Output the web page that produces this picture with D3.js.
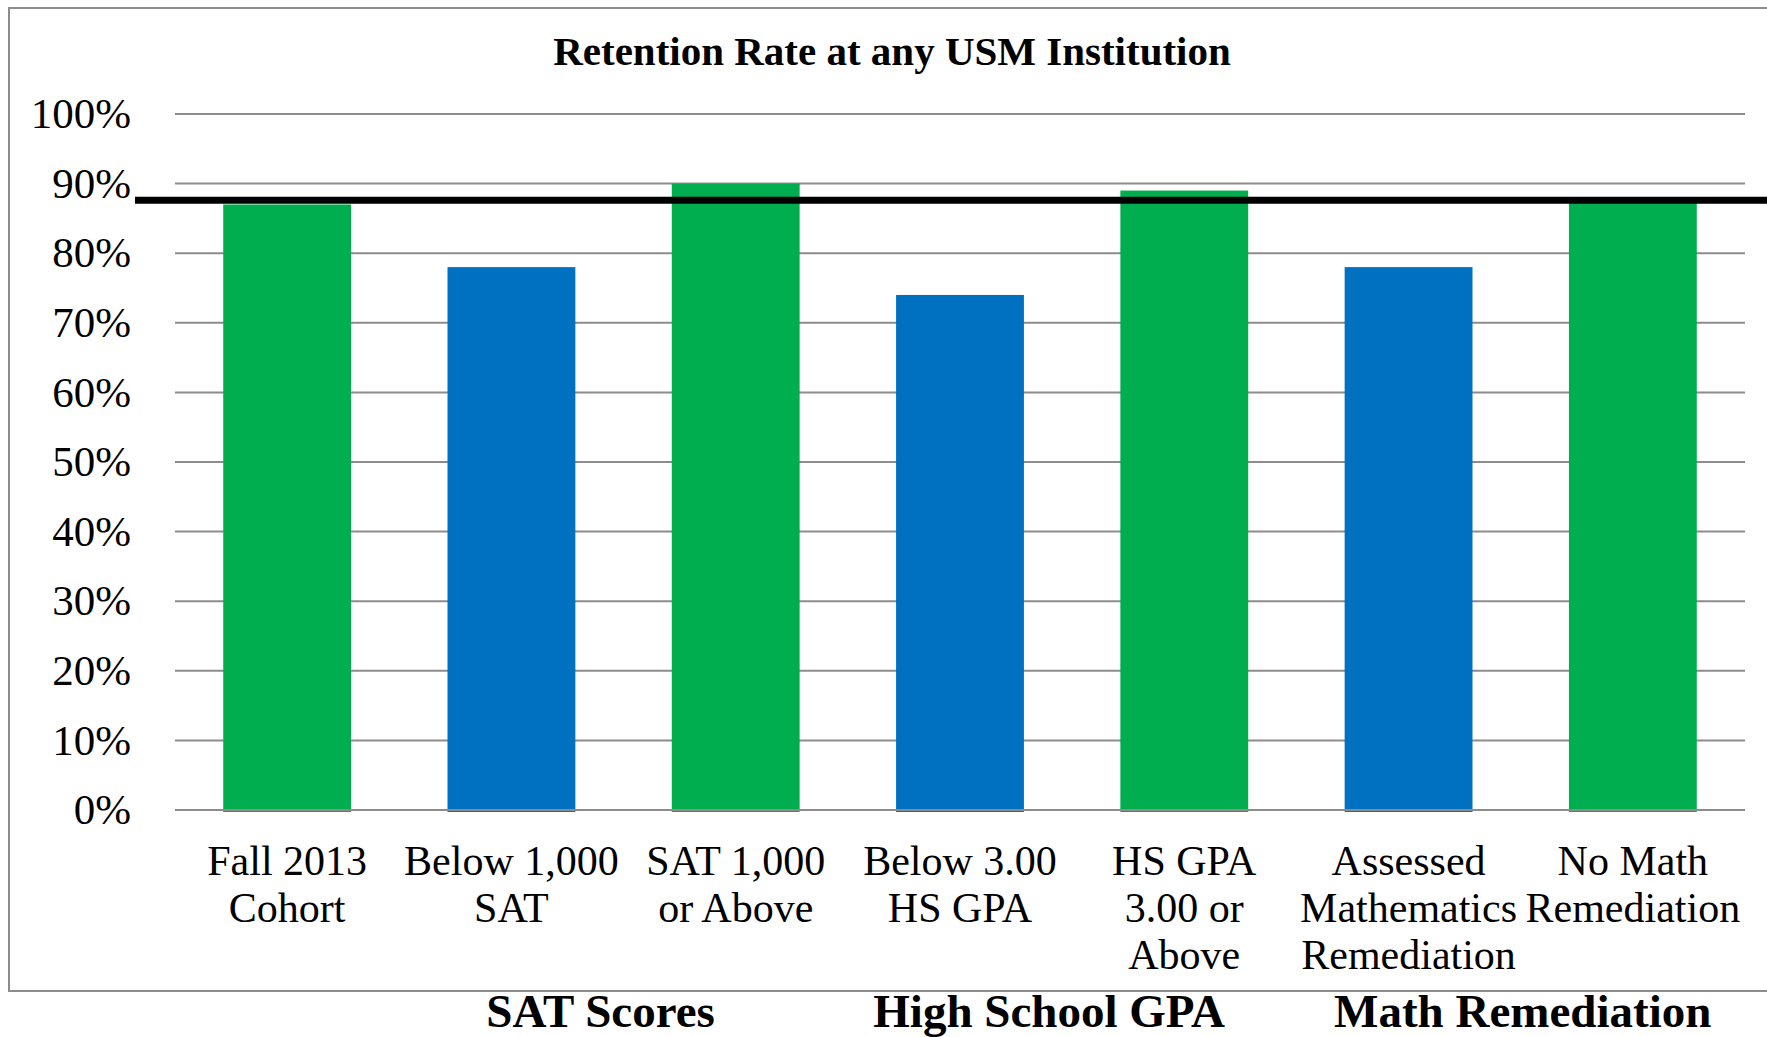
<!DOCTYPE html>
<html>
<head>
<meta charset="utf-8">
<script src="https://cdn.jsdelivr.net/npm/d3@7.9.0/dist/d3.min.js"></script>
<style>
  body { margin: 0; background: #fff; }
  svg { display: block; font-family: "Liberation Serif", "Times New Roman", serif; }
</style>
</head>
<body>
<svg id="chart"></svg>
<script>
const categories = [
  ['Fall 2013', 'Cohort'],
  ['Below 1,000', 'SAT'],
  ['SAT 1,000', 'or Above'],
  ['Below 3.00', 'HS GPA'],
  ['HS GPA', '3.00 or', 'Above'],
  ['Assessed', 'Mathematics', 'Remediation'],
  ['No Math', 'Remediation']
];
const rates = [87, 78, 90, 74, 89, 78, 88];
const barColors = ['#00ae4f', '#0070c0', '#00ae4f', '#0070c0', '#00ae4f', '#0070c0', '#00ae4f'];
const groupLabels = ['SAT Scores', 'High School GPA', 'Math Remediation'];
const groupSpans = [[1, 2], [3, 4], [5, 6]];
const cohortLine = 87.6;
const yTicks = [0, 10, 20, 30, 40, 50, 60, 70, 80, 90, 100];

const width = 1767;
const height = 1037;
const margin = { top: 114, right: 22, bottom: 227, left: 175 };

const svg = d3.select('#chart')
  .attr('width', width)
  .attr('height', height);

// outer frame (runs off the right edge like the original)
svg.append('rect')
  .attr('x', 9)
  .attr('y', 8)
  .attr('width', width + 20)
  .attr('height', 983)
  .attr('fill', 'none')
  .attr('stroke', '#8c8c8c')
  .attr('stroke-width', 2);

const x = d3.scaleBand()
  .domain(d3.range(rates.length))
  .range([margin.left, width - margin.right])
  .paddingInner(0.43)
  .paddingOuter(0.215);

const y = d3.scaleLinear()
  .domain([0, 100])
  .range([height - margin.bottom, margin.top]);

// gridlines
svg.append('g')
  .selectAll('line')
  .data(yTicks.filter(d => d > 0))
  .join('line')
    .attr('x1', margin.left)
    .attr('x2', width - margin.right)
    .attr('y1', d => y(d))
    .attr('y2', d => y(d))
    .attr('stroke', '#8c8c8c')
    .attr('stroke-width', 2);

// y tick labels
svg.append('g')
  .selectAll('text')
  .data(yTicks)
  .join('text')
    .attr('x', 131)
    .attr('y', d => y(d))
    .attr('dy', '0.33em')
    .attr('text-anchor', 'end')
    .attr('font-size', 43)
    .attr('fill', '#000')
    .text(d => d + '%');

// bars
svg.append('g')
  .selectAll('rect')
  .data(rates)
  .join('rect')
    .attr('x', (d, i) => x(i))
    .attr('y', d => y(d))
    .attr('width', x.bandwidth())
    .attr('height', d => y(0) - y(d) + 2)
    .attr('fill', (d, i) => barColors[i]);

// baseline on top of bars
svg.append('line')
  .attr('x1', margin.left)
  .attr('x2', width - margin.right)
  .attr('y1', y(0))
  .attr('y2', y(0))
  .attr('stroke', '#8c8c8c')
  .attr('stroke-width', 2);

// cohort reference line
svg.append('line')
  .attr('x1', 135)
  .attr('x2', width)
  .attr('y1', y(cohortLine))
  .attr('y2', y(cohortLine))
  .attr('stroke', '#000')
  .attr('stroke-width', 7);

// category labels
const catLabels = svg.append('g')
  .selectAll('text')
  .data(categories)
  .join('text')
    .attr('x', (d, i) => x(i) + x.bandwidth() / 2)
    .attr('y', y(0) + 65)
    .attr('text-anchor', 'middle')
    .attr('font-size', 42)
    .attr('fill', '#000');

catLabels.each(function(lines, i) {
  const t = d3.select(this);
  lines.forEach((line, j) => {
    t.append('tspan')
      .attr('x', x(i) + x.bandwidth() / 2)
      .attr('dy', j === 0 ? 0 : 47)
      .text(line);
  });
});

// group labels below the frame, nudged a bit like the original text boxes
const groupNudge = [-23, -23, 2];
svg.append('g')
  .selectAll('text')
  .data(groupLabels)
  .join('text')
    .attr('x', (d, i) => (x(groupSpans[i][0]) + x(groupSpans[i][1]) + x.bandwidth()) / 2 + groupNudge[i])
    .attr('y', 1027)
    .attr('text-anchor', 'middle')
    .attr('font-size', 47)
    .attr('font-weight', 'bold')
    .attr('fill', '#000')
    .text(d => d);

// title
svg.append('text')
  .attr('x', 892)
  .attr('y', 65)
  .attr('text-anchor', 'middle')
  .attr('font-size', 41)
  .attr('font-weight', 'bold')
  .attr('fill', '#000')
  .text('Retention Rate at any USM Institution');
</script>
</body>
</html>
